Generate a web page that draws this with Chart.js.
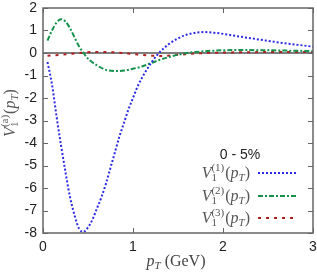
<!DOCTYPE html>
<html><head><meta charset="utf-8">
<script src="https://cdn.jsdelivr.net/npm/chart.js@4/dist/chart.umd.min.js"></script>
<style>html,body{margin:0;padding:0;background:#fff}#wrap{width:317px;height:277px}</style>
</head><body><div id="wrap"><canvas id="c" width="317" height="277"></canvas></div>
<script>
const xTicks = [0, 1, 2, 3];
const yTicks = [-8, -7, -6, -5, -4, -3, -2, -1, 0, 1, 2];
const legendTitle = "0 - 5%";

const v1X = [0.05,0.1,0.15,0.2,0.25,0.3,0.35,0.4,0.45,0.5,0.55,0.6,0.65,0.7,0.75,0.8,0.85,0.9,0.95,1.0,1.05,1.1,1.2,1.3,1.4,1.5,1.6,1.7,1.8,1.9,2.0,2.2,2.4,2.6,2.8,3.0];
const v1Y = [-0.4,-1.4,-2.8,-4.1,-5.3,-6.4,-7.2,-7.8,-7.95,-7.75,-7.4,-6.9,-6.4,-5.8,-5.1,-4.4,-3.7,-3.1,-2.5,-2.0,-1.5,-1.1,-0.45,0.05,0.4,0.65,0.82,0.9,0.93,0.9,0.85,0.72,0.6,0.48,0.38,0.28];

const v2X = [0.05,0.1,0.15,0.2,0.25,0.3,0.35,0.4,0.45,0.5,0.6,0.7,0.8,0.9,1.0,1.1,1.2,1.3,1.4,1.5,1.6,1.8,2.0,2.2,2.5,2.8,3.0];
const v2Y = [0.55,1.0,1.35,1.5,1.4,1.1,0.7,0.3,0.0,-0.25,-0.55,-0.75,-0.8,-0.78,-0.7,-0.6,-0.45,-0.3,-0.18,-0.08,0.0,0.08,0.12,0.13,0.12,0.1,0.08];

const v3X = [0.05,0.2,0.4,0.6,0.8,1.0,1.2,1.3,1.5,1.7,2.0,2.5,3.0];
const v3Y = [-0.12,-0.08,0.0,0.05,0.03,-0.05,-0.12,-0.13,-0.08,-0.02,0.02,0.04,0.04];

const colors = ['#2a2ae6', '#14914a', '#b02020'];
const dashes = [[2,2], [5,2,2,2], [3,5]];
const legendSup = ['(1)', '(2)', '(3)'];

function pts(xs, ys){ return xs.map((x,i)=>({x, y: ys[i]})); }

const SERIF = '"Liberation Serif", "DejaVu Serif", serif';
const SANS = '"Liberation Sans", Arial, sans-serif';

function richWidth(ctx, segs){
  let w = 0;
  for (const s of segs){
    if (s.sub !== undefined){
      ctx.font = (s.size) + 'px ' + SERIF;
      w += Math.max(ctx.measureText(s.sub).width, ctx.measureText(s.sup).width) + 1;
    } else {
      ctx.font = (s.it ? 'italic ' : '') + s.size + 'px ' + SERIF;
      w += ctx.measureText(s.t).width;
    }
  }
  return w;
}
function richDraw(ctx, segs, x, y){
  ctx.textBaseline = 'alphabetic';
  ctx.textAlign = 'left';
  let cx = x;
  for (const s of segs){
    if (s.sub !== undefined){
      ctx.font = s.size + 'px ' + SERIF;
      ctx.fillText(s.sub, cx, y + 3);
      ctx.fillText(s.sup, cx, y - 7);
      cx += Math.max(ctx.measureText(s.sub).width, ctx.measureText(s.sup).width) + 1;
    } else {
      ctx.font = (s.it ? 'italic ' : '') + s.size + 'px ' + SERIF;
      ctx.fillText(s.t, cx, y + (s.dy || 0));
      cx += ctx.measureText(s.t).width;
    }
  }
}
function vLabel(sup, big, small){
  return [
    {t:'V', it:true, size:big},
    {sub:'1', sup:sup, size:small},
    {t:'(', size:big},
    {t:'p', it:true, size:big},
    {t:'T', it:true, size:small, dy:3},
    {t:')', size:big}
  ];
}

const decor = {
  id: 'decor',
  beforeDatasetsDraw(chart){
    const {ctx, chartArea:a, scales:{x, y}} = chart;
    ctx.save();
    ctx.strokeStyle = '#000';
    ctx.lineWidth = 1.2;
    const y0 = y.getPixelForValue(0);
    ctx.beginPath(); ctx.moveTo(a.left, y0); ctx.lineTo(a.right, y0); ctx.stroke();
    ctx.restore();
  },
  afterDraw(chart){
    const {ctx, chartArea:a, scales:{x, y}} = chart;
    ctx.save();
    ctx.strokeStyle = '#666';
    ctx.lineWidth = 1.5;
    ctx.strokeRect(a.left, a.top, a.right - a.left, a.bottom - a.top);
    ctx.lineWidth = 1;
    const L = 5;
    ctx.beginPath();
    for (const v of xTicks){
      const px = Math.round(x.getPixelForValue(v)) + 0.5;
      ctx.moveTo(px, a.bottom); ctx.lineTo(px, a.bottom - L);
      ctx.moveTo(px, a.top); ctx.lineTo(px, a.top + L);
    }
    for (const v of yTicks){
      const py = Math.round(y.getPixelForValue(v)) + 0.5;
      ctx.moveTo(a.left, py); ctx.lineTo(a.left + L, py);
      ctx.moveTo(a.right, py); ctx.lineTo(a.right - L, py);
    }
    ctx.stroke();

    // tick labels
    ctx.fillStyle = '#222';
    ctx.font = '14px ' + SANS;
    ctx.textAlign = 'center';
    ctx.textBaseline = 'middle';
    for (const v of xTicks) ctx.fillText(String(v), x.getPixelForValue(v), a.bottom + 14);
    ctx.textAlign = 'right';
    for (const v of yTicks) ctx.fillText(String(v), a.left - 6, y.getPixelForValue(v));

    // legend
    ctx.font = '14px ' + SANS;
    ctx.textAlign = 'center';
    ctx.fillText(legendTitle, 240, 155);
    const rowsY = [173, 196, 218];
    for (let i = 0; i < 3; i++){
      const segs = vLabel(legendSup[i], 16, 11);
      const w = richWidth(ctx, segs);
      ctx.fillStyle = '#555';
      richDraw(ctx, segs, 250 - w, rowsY[i] + 5);
      ctx.strokeStyle = colors[i];
      ctx.lineWidth = 2;
      ctx.setLineDash(dashes[i]);
      ctx.beginPath(); ctx.moveTo(258, rowsY[i]); ctx.lineTo(296, rowsY[i]); ctx.stroke();
      ctx.setLineDash([]);
    }

    // x title
    const xs = [
      {t:'p', it:true, size:16},
      {t:'T', it:true, size:11, dy:3},
      {t:' (GeV)', size:16}
    ];
    ctx.fillStyle = '#444';
    const xw = richWidth(ctx, xs);
    richDraw(ctx, xs, 176 - xw/2, 266);

    // y title
    ctx.fillStyle = '#555';
    const ys = vLabel('(a)', 16, 11);
    const yw = richWidth(ctx, ys);
    ctx.translate(15, 113);
    ctx.rotate(-Math.PI/2);
    richDraw(ctx, ys, -yw/2, 0);
    ctx.restore();
  }
};

const datasets = [
  {data: pts(v1X, v1Y)},
  {data: pts(v2X, v2Y)},
  {data: pts(v3X, v3Y)}
].map((d, i) => Object.assign(d, {
  showLine: true, pointRadius: 0, borderColor: colors[i], borderWidth: 2,
  borderDash: dashes[i], cubicInterpolationMode: 'monotone', fill: false
}));

new Chart(document.getElementById('c'), {
  type: 'scatter',
  data: { datasets },
  options: {
    responsive: false, animation: false, devicePixelRatio: 1,
    layout: { padding: { top: 8, right: 4, left: 0, bottom: 0 } },
    plugins: { legend: { display: false }, tooltip: { enabled: false } },
    scales: {
      x: {
        type: 'linear', min: 0, max: 3,
        afterFit: s => { s.height = 44; },
        afterBuildTicks: s => { s.ticks = xTicks.map(v => ({value: v})); },
        grid: { display: false, drawTicks: false },
        border: { display: false },
        ticks: { display: false }
      },
      y: {
        type: 'linear', min: -8, max: 2,
        afterFit: s => { s.width = 43; },
        afterBuildTicks: s => { s.ticks = yTicks.map(v => ({value: v})); },
        grid: { display: false, drawTicks: false },
        border: { display: false },
        ticks: { display: false }
      }
    }
  },
  plugins: [decor]
});
</script></body></html>
